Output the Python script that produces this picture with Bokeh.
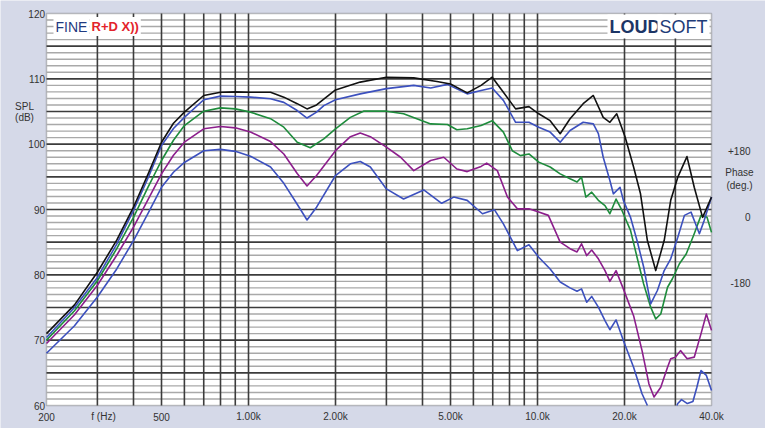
import numpy as np
from bokeh.plotting import figure
from bokeh.models import Label, Range1d, BoxAnnotation
from bokeh.core.properties import value
from bokeh.embed import file_html
from bokeh.resources import INLINE

# ---------------- data ----------------
black_f = [200, 250, 300, 350, 400, 450, 500, 550, 600, 700, 800, 900, 1016, 1192, 1325, 1474, 1594, 1720,
           1822, 2000, 2436, 3000, 3730, 4486, 5000, 5712, 6380, 6970, 7620, 8400, 9340, 10100, 11060, 11980,
           12960, 14390, 15600, 16880, 17800, 18800, 20100, 21500, 22720, 24000, 25650, 27440, 28900, 30580,
           32900, 34860, 37260, 40000]
black_db = [71.0, 75.4, 80.4, 85.3, 90.35, 95.5, 100.3, 103.2, 104.9, 107.45, 107.95, 108.0, 107.95, 107.95,
            107.2, 106.2, 105.4, 106.0, 106.9, 108.3, 109.5, 110.25, 110.15, 109.6, 109.2, 107.85, 109.0, 110.25,
            107.95, 105.4, 105.75, 104.65, 103.6, 101.6, 103.9, 106.2, 107.45, 104.1, 103.35, 104.65, 101.1, 96.5,
            92.4, 85.25, 80.65, 85.25, 91.4, 94.95, 98.1, 93.4, 88.8, 91.9]

blue1_f = [200, 250, 300, 350, 400, 450, 500, 550, 600, 700, 800, 900, 1016, 1192, 1325, 1474, 1594, 1720,
           1822, 2000, 2436, 3000, 3730, 4270, 4880, 5712, 6380, 6970, 7620, 8400, 9340, 10100, 11060, 11980,
           12960, 14390, 15600, 16240, 16880, 17800, 18300, 19300, 19820, 20980, 22100, 23300, 24640, 25990,
           27440, 28900, 30580, 32240, 33980, 36320, 37720, 40000]
blue1_db = [70.4, 75.0, 79.6, 84.7, 89.85, 94.9, 99.8, 102.4, 104.1, 106.8, 107.35, 107.3, 107.2, 106.95, 106.4,
            105.15, 104.0, 104.9, 105.9, 106.8, 107.7, 108.5, 109.0, 108.6, 109.15, 107.7, 108.2, 108.6, 106.7,
            103.35, 103.35, 102.6, 101.85, 100.3, 102.1, 103.35, 103.1, 101.6, 98.0, 94.45, 92.4, 93.4, 91.4,
            88.8, 85.25, 81.2, 75.55, 77.6, 80.65, 82.45, 85.75, 89.1, 89.6, 86.3, 88.3, 91.9]

green_f = [200, 250, 300, 350, 400, 450, 500, 550, 600, 700, 800, 900, 1016, 1192, 1325, 1474, 1636, 1822,
           2000, 2252, 2500, 3000, 3440, 4270, 4880, 5260, 5712, 6380, 6970, 7620, 8180, 8730, 9340, 10100,
           11060, 11980, 12960, 13700, 14200, 14700, 15400, 16240, 17120, 17800, 18700, 19600, 20980, 22100,
           23300, 24640, 25650, 26700, 28180, 29300, 30980, 32700, 34860, 36800, 38600, 40000]
green_db = [70.0, 74.5, 79.1, 84.0, 88.8, 93.5, 97.5, 100.6, 102.85, 105.05, 105.55, 105.4, 104.9, 103.9, 102.6,
            100.3, 99.45, 100.8, 102.35, 104.1, 105.05, 105.05, 104.65, 103.1, 103.0, 102.2, 102.35, 102.85,
            103.6, 101.85, 99.0, 98.25, 98.5, 97.25, 96.5, 95.45, 94.7, 94.2, 94.95, 91.9, 92.65, 91.4, 90.6,
            89.35, 91.6, 89.85, 86.8, 82.7, 78.6, 75.05, 73.25, 74.0, 78.1, 79.4, 81.7, 83.2, 86.3, 89.1, 88.8,
            86.5]

purple_f = [200, 250, 300, 350, 400, 450, 500, 550, 600, 700, 800, 900, 1016, 1192, 1325, 1474, 1594, 1720,
            2000, 2252, 2436, 2640, 3000, 3360, 3730, 4270, 4740, 5260, 5712, 6380, 6670, 7260, 7870, 8520,
            9340, 10100, 10900, 11980, 12960, 13700, 14200, 14800, 15400, 16240, 17120, 17800, 18700, 19820,
            21500, 23000, 24300, 25300, 26700, 28180, 28900, 30000, 31250, 32950, 34860, 36800, 38400, 40000]
purple_db = [69.5, 73.9, 78.4, 83.0, 87.3, 91.6, 95.45, 98.3, 100.3, 102.35, 102.7, 102.5, 101.85, 100.4, 98.5,
             95.5, 93.6, 95.2, 99.0, 101.15, 101.7, 101.15, 99.55, 98.0, 95.95, 97.5, 98.0, 96.2, 95.8, 96.6,
             97.1, 95.95, 91.9, 90.1, 90.1, 89.6, 89.1, 85.0, 84.0, 83.5, 84.75, 82.95, 83.8, 82.45, 80.65, 79.0,
             80.65, 77.85, 73.75, 68.4, 63.3, 61.3, 62.8, 65.85, 67.15, 67.4, 68.4, 67.15, 67.4, 71.0, 74.0, 71.5]

blue2_f = [200, 250, 300, 350, 400, 450, 500, 550, 600, 700, 800, 900, 1016, 1192, 1325, 1474, 1594, 1720,
           2000, 2252, 2436, 2640, 3000, 3440, 4040, 4660, 5130, 5712, 6450, 7100, 7620, 8520, 9340, 10100,
           11060, 11980, 12960, 13700, 14200, 14800, 15400, 16240, 17120, 17800, 18700, 19820, 21500, 23000,
           24000, 25300, 27000, 29000, 30580, 31500, 33000, 34500, 35600, 36800, 38400, 40000]
blue2_db = [68.0, 72.2, 76.6, 80.9, 85.25, 89.5, 93.4, 95.7, 97.2, 99.0, 99.2, 98.9, 98.15, 96.5, 94.0, 90.8,
            88.4, 90.35, 95.2, 97.0, 97.35, 96.5, 93.15, 91.6, 93.0, 90.95, 91.9, 91.4, 89.35, 89.95, 87.8, 83.7,
            84.6, 82.7, 80.9, 78.9, 78.0, 77.5, 77.85, 75.8, 76.7, 75.05, 73.0, 71.6, 73.1, 69.95, 65.85, 61.8,
            60.0, 57.5, 56.5, 58.0, 60.3, 60.9, 60.3, 60.6, 62.8, 65.35, 64.6, 62.3]

x_tick_values = [200, 315, 500, 1000, 2000, 5000, 10000, 20000, 40000]
x_tick_labels = ["200", "f (Hz)", "500", "1.00k", "2.00k", "5.00k", "10.0k", "20.0k", "40.0k"]
x_grid_values = [300, 400, 500, 600, 700, 800, 900, 1000, 2000, 3000, 4000, 5000, 6000, 7000, 8000, 9000,
                 10000, 20000, 30000]
y_tick_values = [60, 70, 80, 90, 100, 110, 120]
y_tick_labels = ["60", "70", "80", "90", "100", "110", "120"]
y_major_grid = [65, 70, 75, 80, 85, 90, 95, 100, 105, 110, 115]
y_minor_grid = [v for v in range(61, 120) if v % 5 != 0]

F_MIN, F_MAX = 200, 40000
DB_MIN, DB_MAX = 60, 120

# ---------------- layout geometry (pixels) ----------------
W, H = 765, 428
PL, PR, PT, PB = 46, 711, 13, 405          # plot-area box inside the canvas
K = (np.log10(F_MAX) - np.log10(F_MIN)) / (PR - PL)   # decades per pixel
M = (DB_MAX - DB_MIN) / (PB - PT)                      # dB per pixel


def fx_of(px):
    return 10 ** (np.log10(F_MIN) + (px - PL) * K)


def db_of(py):
    return DB_MAX - (py - PT) * M


BG = "#d5d9e8"
FONT = "Liberation Sans"
TXT = "#333333"

p = figure(width=W, height=H, x_axis_type="log",
           x_range=Range1d(fx_of(0), fx_of(W)), y_range=Range1d(db_of(H), db_of(0)),
           x_axis_location=None, y_axis_location=None,
           output_backend="svg", toolbar_location=None, title=None,
           min_border=0, min_border_left=0, min_border_right=0, min_border_top=0, min_border_bottom=0)
p.background_fill_color = BG
p.border_fill_color = BG
p.outline_line_color = None
p.grid.visible = False

# white plot area with dark frame
p.add_layout(BoxAnnotation(left=F_MIN, right=F_MAX, bottom=DB_MIN, top=DB_MAX,
                           fill_color="white", fill_alpha=1.0,
                           line_color="#3a3a3a", line_width=1.5, level="underlay"))

# grid lines
n = len(y_minor_grid)
p.segment(x0=[F_MIN] * n, x1=[F_MAX] * n, y0=y_minor_grid, y1=y_minor_grid,
          line_color="#a9a9a9", line_width=1.4)
n = len(y_major_grid)
p.segment(x0=[F_MIN] * n, x1=[F_MAX] * n, y0=y_major_grid, y1=y_major_grid,
          line_color="#3c3c3c", line_width=1.6)
n = len(x_grid_values)
p.segment(x0=x_grid_values, x1=x_grid_values, y0=[DB_MIN] * n, y1=[DB_MAX] * n,
          line_color="#3c3c3c", line_width=1.6)


def clip_below(fs, ds, lo):
    """Split a curve where it leaves the plot area through the bottom edge."""
    lf = np.log10(np.asarray(fs, dtype=float))
    d = np.asarray(ds, dtype=float)
    xs, ys = [], []
    for i in range(len(d)):
        below = d[i] < lo
        if i > 0 and (d[i - 1] < lo) != below:
            t = (lo - d[i - 1]) / (d[i] - d[i - 1])
            xs.append(10 ** (lf[i - 1] + t * (lf[i] - lf[i - 1])))
            ys.append(lo)
        if below:
            if ys and not np.isnan(ys[-1]):
                xs.append(np.nan)
                ys.append(np.nan)
        else:
            xs.append(10 ** lf[i])
            ys.append(d[i])
    return np.array(xs), np.array(ys)


curves = [
    (blue2_f, blue2_db, "#3c50be"),
    (purple_f, purple_db, "#8c1e8c"),
    (green_f, green_db, "#1e8c3c"),
    (blue1_f, blue1_db, "#3c50be"),
    (black_f, black_db, "#111111"),
]
for fs, ds, col in curves:
    xs, ys = clip_below(fs, ds, DB_MIN)
    p.line(xs, ys, line_color=col, line_width=1.6, line_join="round")

# tick labels
p.text(x=x_tick_values, y=[db_of(PB + 11)] * len(x_tick_values), text=x_tick_labels,
       text_font=value(FONT), text_font_size=value("10px"), text_color=TXT,
       text_align="center", text_baseline="middle")
p.text(x=[fx_of(PL - 1.5)] * len(y_tick_values), y=y_tick_values, text=y_tick_labels,
       text_font=value(FONT), text_font_size=value("10px"), text_color=TXT,
       text_align="right", text_baseline="middle")


def lab(px, py, text, size="10px", color=TXT, align="center", style="normal", bg=None):
    kw = dict(x=fx_of(px), y=db_of(py), text=text, text_font=FONT, text_font_size=size,
              text_color=color, text_align=align, text_baseline="middle", text_font_style=style)
    if bg is not None:
        kw.update(background_fill_color=bg, padding=2)
    p.add_layout(Label(**kw))


lab(53, 26, "FINE", size="14px", color="#1f3a80", align="left", bg="white")
lab(89, 26, "R+D X))", size="13px", color="#e3232b", align="left", style="bold", bg="white")
lab(607, 26, "LOUD", size="18px", color="#1c3566", align="left", style="bold", bg="white")
lab(657, 26, "SOFT", size="18px", color="#1f3c78", align="left", bg="white")

lab(24, 106, "SPL")
lab(24, 117, "(dB)")

lab(750, 150, "+180", align="right")
lab(739, 172, "Phase")
lab(739, 185, "(deg.)")
lab(750, 216, "0", align="right")
lab(750, 282, "-180", align="right")

open("out.html", "w").write(file_html(p, INLINE))
